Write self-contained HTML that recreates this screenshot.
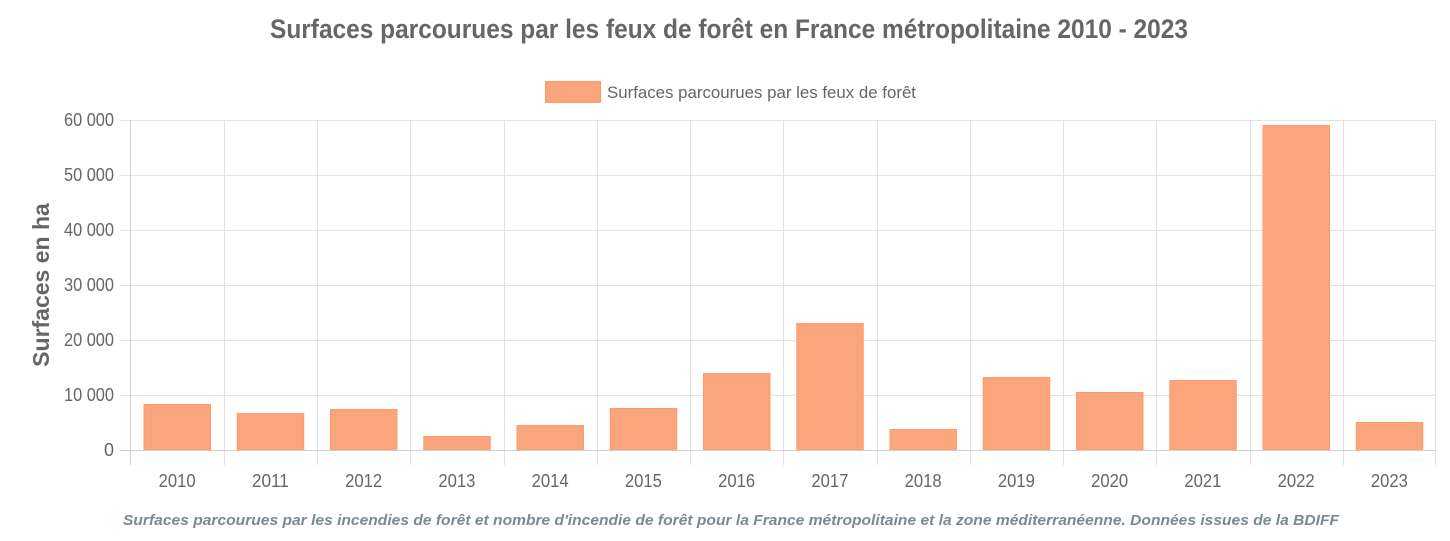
<!DOCTYPE html>
<html><head><meta charset="utf-8"><style>
html,body{margin:0;padding:0;background:#fff;}
svg{display:block;}
</style></head><body>
<svg width="1450" height="541" xmlns="http://www.w3.org/2000/svg" font-family="Liberation Sans, sans-serif">
<text x="729" y="38" text-anchor="middle" font-size="27" font-weight="bold" fill="#666" textLength="918" lengthAdjust="spacingAndGlyphs">Surfaces parcourues par les feux de forêt en France métropolitaine 2010 - 2023</text>
<rect x="545.5" y="81.5" width="55" height="21" fill="#fba57c" stroke="#ff9a6a"/>
<text x="607" y="98" font-size="17" fill="#666" textLength="309" lengthAdjust="spacingAndGlyphs">Surfaces parcourues par les feux de forêt</text>
<g stroke="#e2e2e2" stroke-width="1">
<line x1="120" y1="120.5" x2="1436" y2="120.5"/>
<line x1="120" y1="175.5" x2="1436" y2="175.5"/>
<line x1="120" y1="230.5" x2="1436" y2="230.5"/>
<line x1="120" y1="285.5" x2="1436" y2="285.5"/>
<line x1="120" y1="340.5" x2="1436" y2="340.5"/>
<line x1="120" y1="395.5" x2="1436" y2="395.5"/>
</g>
<g stroke="#e2e2e2" stroke-width="1" id="vl"></g>
<g id="bars"></g>
<line x1="120" y1="450.5" x2="1436" y2="450.5" stroke="#cfcfcf"/>
<line x1="130.5" y1="120" x2="130.5" y2="465" stroke="#d0d0d0"/>
<g font-size="18" fill="#666" text-anchor="end" lengthAdjust="spacingAndGlyphs">
<text x="114" y="126" textLength="50" lengthAdjust="spacingAndGlyphs">60 000</text>
<text x="114" y="181" textLength="50" lengthAdjust="spacingAndGlyphs">50 000</text>
<text x="114" y="236" textLength="50" lengthAdjust="spacingAndGlyphs">40 000</text>
<text x="114" y="291" textLength="50" lengthAdjust="spacingAndGlyphs">30 000</text>
<text x="114" y="346" textLength="50" lengthAdjust="spacingAndGlyphs">20 000</text>
<text x="114" y="401" textLength="50" lengthAdjust="spacingAndGlyphs">10 000</text>
<text x="114" y="456">0</text>
</g>
<text transform="translate(49,285) rotate(-90)" text-anchor="middle" font-size="23" font-weight="bold" fill="#666">Surfaces en ha</text>
<g id="xl" font-size="18" fill="#666" text-anchor="middle"></g>
<text x="731" y="525" text-anchor="middle" font-size="15" font-style="italic" font-weight="bold" fill="#7a8a90" textLength="1216" lengthAdjust="spacingAndGlyphs">Surfaces parcourues par les incendies de forêt et nombre d'incendie de forêt pour la France métropolitaine et la zone méditerranéenne. Données issues de la BDIFF</text>
<script>
var tops=[404,413,409,436,425,408,373,323,429,377,392,380,125,422];
var ns="http://www.w3.org/2000/svg",cw=1305.5/14,vl=document.getElementById('vl'),b=document.getElementById('bars'),xl=document.getElementById('xl');
for(var i=0;i<14;i++){
 var x0=130.5+i*cw;
 if(i>0){var l=document.createElementNS(ns,'line');l.setAttribute('x1',Math.round(x0)+.5);l.setAttribute('x2',Math.round(x0)+.5);l.setAttribute('y1',120);l.setAttribute('y2',465);vl.appendChild(l);}
 var r=document.createElementNS(ns,'rect');r.setAttribute('x',x0+13.5);r.setAttribute('y',tops[i]+.5);r.setAttribute('width',66.5);r.setAttribute('height',449.5-tops[i]);r.setAttribute('fill','#fba57c');r.setAttribute('stroke','#ff9a6a');r.setAttribute('stroke-width','1');b.appendChild(r);
 var t=document.createElementNS(ns,'text');t.setAttribute('x',x0+cw/2);t.setAttribute('y',487);t.setAttribute('textLength',37);t.setAttribute('lengthAdjust','spacingAndGlyphs');t.textContent=2010+i;xl.appendChild(t);
}
var l2=document.createElementNS(ns,'line');l2.setAttribute('x1',1435.5);l2.setAttribute('x2',1435.5);l2.setAttribute('y1',120);l2.setAttribute('y2',465);vl.appendChild(l2);
</script>
</svg>
</body></html>
